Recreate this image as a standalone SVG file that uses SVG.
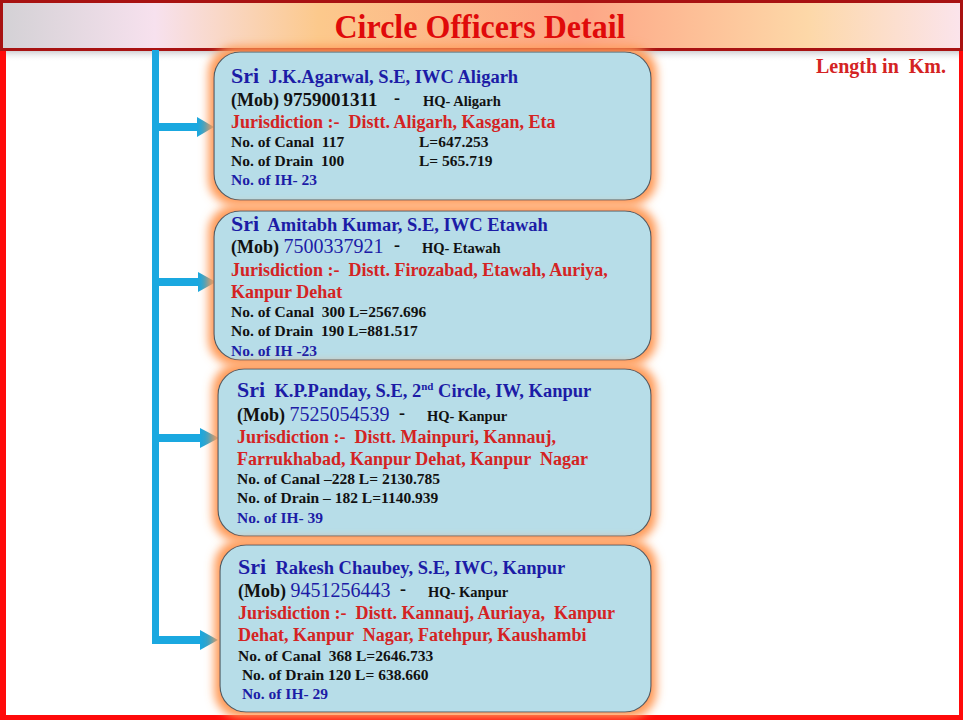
<svg xmlns="http://www.w3.org/2000/svg" width="963" height="720" viewBox="0 0 963 720">
<defs>
<linearGradient id="tg" x1="0" y1="0" x2="1" y2="0">
<stop offset="0" stop-color="#d3d1d5"/>
<stop offset="0.16" stop-color="#f7e1ee"/>
<stop offset="0.33" stop-color="#fcc98c"/>
<stop offset="0.6" stop-color="#fda585"/>
<stop offset="0.84" stop-color="#fdd8a8"/>
<stop offset="1" stop-color="#fbe4ec"/>
</linearGradient>
<linearGradient id="sh" x1="0" y1="0" x2="0" y2="1">
<stop offset="0" stop-color="#c8c8cc"/>
<stop offset="1" stop-color="#ffffff" stop-opacity="0"/>
</linearGradient>
<linearGradient id="ah" x1="0" y1="0" x2="1" y2="0">
<stop offset="0" stop-color="#1aa8e0"/>
<stop offset="1" stop-color="#4a9cb0"/>
</linearGradient>
<filter id="glow" x="-10%" y="-20%" width="120%" height="140%">
<feMorphology in="SourceAlpha" operator="dilate" radius="5" result="d"/>
<feGaussianBlur in="d" stdDeviation="5" result="b"/>
<feFlood flood-color="#ff9955"/>
<feComposite in2="b" operator="in" result="g"/>
<feMerge><feMergeNode in="g"/><feMergeNode in="SourceGraphic"/></feMerge>
</filter>
</defs>
<style>
text{font-family:"Liberation Serif","Times New Roman",serif;font-weight:bold;white-space:pre}
.box{fill:#b7dde8;stroke:#4d5c62;stroke-width:1.2;filter:url(#glow)}
.nm{font-size:18.5px;fill:#1c1ca6}
.sri{font-size:22px}
.mob{font-size:18px;fill:#111}
.numk{font-size:19px;fill:#111}
.numb{font-size:20px;fill:#1c1ca6;font-weight:normal}
.hq{font-size:14.5px;fill:#111}
.jr{font-size:18px;fill:#d42323}
.st{font-size:15.5px;fill:#111}
.ih{font-size:15.5px;fill:#1c1ca6}
.bar{fill:#1aa8e0}
.head{fill:url(#ah)}
</style>
<rect x="0" y="0" width="963" height="720" fill="#ffffff"/>
<rect x="6" y="50" width="953" height="12" fill="url(#sh)"/>
<g id="frame">
<rect x="0" y="40" width="6" height="680" fill="#ff0a0a"/>
<rect x="959" y="40" width="4" height="680" fill="#ff0a0a"/>
<rect x="0" y="715" width="963" height="5" fill="#ff0a0a"/>
</g>
<g id="title">
<rect x="1.5" y="1.5" width="960" height="48" fill="url(#tg)" stroke="#a81212" stroke-width="3"/>
<text x="480" y="38" font-size="34" fill="#e00a0a" text-anchor="middle" textLength="291" lengthAdjust="spacingAndGlyphs">Circle Officers Detail</text>
</g>
<text id="unit" x="946" y="73" font-size="20" fill="#d42323" text-anchor="end">Length in  Km.</text>
<g id="connectors">
<rect class="bar" x="152" y="50" width="7" height="594"/>
<rect class="bar" x="152" y="123" width="47" height="8"/>
<polygon class="head" points="197,117 214,127 197,137"/>
<rect class="bar" x="152" y="278" width="48" height="8"/>
<polygon class="head" points="198,272 216,282 198,292"/>
<rect class="bar" x="152" y="434" width="50" height="8"/>
<polygon class="head" points="200,428 219,438 200,448"/>
<rect class="bar" x="152" y="636" width="50" height="8"/>
<polygon class="head" points="200,630 218,640 200,650"/>
</g>
<g id="box1">
<rect class="box" x="214" y="52" width="437" height="148" rx="26"/>
<text class="nm" x="231" y="83"><tspan class="sri">Sri</tspan>  J.K.Agarwal, S.E, IWC Aligarh</text>
<text x="231" y="106"><tspan class="mob">(Mob) </tspan><tspan class="numk">9759001311</tspan></text>
<text class="mob" x="394" y="104">-</text>
<text class="hq" x="423" y="106">HQ- Aligarh</text>
<text class="jr" x="231" y="128">Jurisdiction :-  Distt. Aligarh, Kasgan, Eta</text>
<text class="st" x="231" y="147">No. of Canal  117</text>
<text class="st" x="419" y="147">L=647.253</text>
<text class="st" x="231" y="166">No. of Drain  100</text>
<text class="st" x="419" y="166">L= 565.719</text>
<text class="ih" x="231" y="185">No. of IH- 23</text>
</g>
<g id="box2">
<rect class="box" x="214" y="211" width="437" height="149" rx="26"/>
<text class="nm" x="231" y="231"><tspan class="sri">Sri</tspan>  Amitabh Kumar, S.E, IWC Etawah</text>
<text x="231" y="253"><tspan class="mob">(Mob) </tspan><tspan class="numb">7500337921</tspan></text>
<text class="mob" x="394" y="251">-</text>
<text class="hq" x="422" y="253">HQ- Etawah</text>
<text class="jr" x="231" y="276">Jurisdiction :-  Distt. Firozabad, Etawah, Auriya,</text>
<text class="jr" x="231" y="298">Kanpur Dehat</text>
<text class="st" x="231" y="317">No. of Canal  300 L=2567.696</text>
<text class="st" x="231" y="336">No. of Drain  190 L=881.517</text>
<text class="ih" x="231" y="356">No. of IH -23</text>
</g>
<g id="box3">
<rect class="box" x="218" y="369" width="433" height="167" rx="26"/>
<text class="nm" x="237" y="397"><tspan class="sri">Sri</tspan>  K.P.Panday, S.E, 2<tspan font-size="11" dy="-7">nd</tspan><tspan dy="7"> Circle, IW, Kanpur</tspan></text>
<text x="237" y="421"><tspan class="mob">(Mob) </tspan><tspan class="numb">7525054539</tspan></text>
<text class="mob" x="399" y="419">-</text>
<text class="hq" x="427" y="421">HQ- Kanpur</text>
<text class="jr" x="237" y="443">Jurisdiction :-  Distt. Mainpuri, Kannauj,</text>
<text class="jr" x="237" y="465">Farrukhabad, Kanpur Dehat, Kanpur  Nagar</text>
<text class="st" x="237" y="484">No. of Canal –228 L= 2130.785</text>
<text class="st" x="237" y="503">No. of Drain – 182 L=1140.939</text>
<text class="ih" x="237" y="523">No. of IH- 39</text>
</g>
<g id="box4">
<rect class="box" x="220" y="545" width="431" height="167" rx="26"/>
<text class="nm" x="238" y="574"><tspan class="sri">Sri</tspan>  Rakesh Chaubey, S.E, IWC, Kanpur</text>
<text x="238" y="597"><tspan class="mob">(Mob) </tspan><tspan class="numb">9451256443</tspan></text>
<text class="mob" x="400" y="595">-</text>
<text class="hq" x="428" y="597">HQ- Kanpur</text>
<text class="jr" x="238" y="619">Jurisdiction :-  Distt. Kannauj, Auriaya,  Kanpur</text>
<text class="jr" x="238" y="641">Dehat, Kanpur  Nagar, Fatehpur, Kaushambi</text>
<text class="st" x="238" y="661">No. of Canal  368 L=2646.733</text>
<text class="st" x="238" y="680"> No. of Drain 120 L= 638.660</text>
<text class="ih" x="238" y="699"> No. of IH- 29</text>
</g>
</svg>
